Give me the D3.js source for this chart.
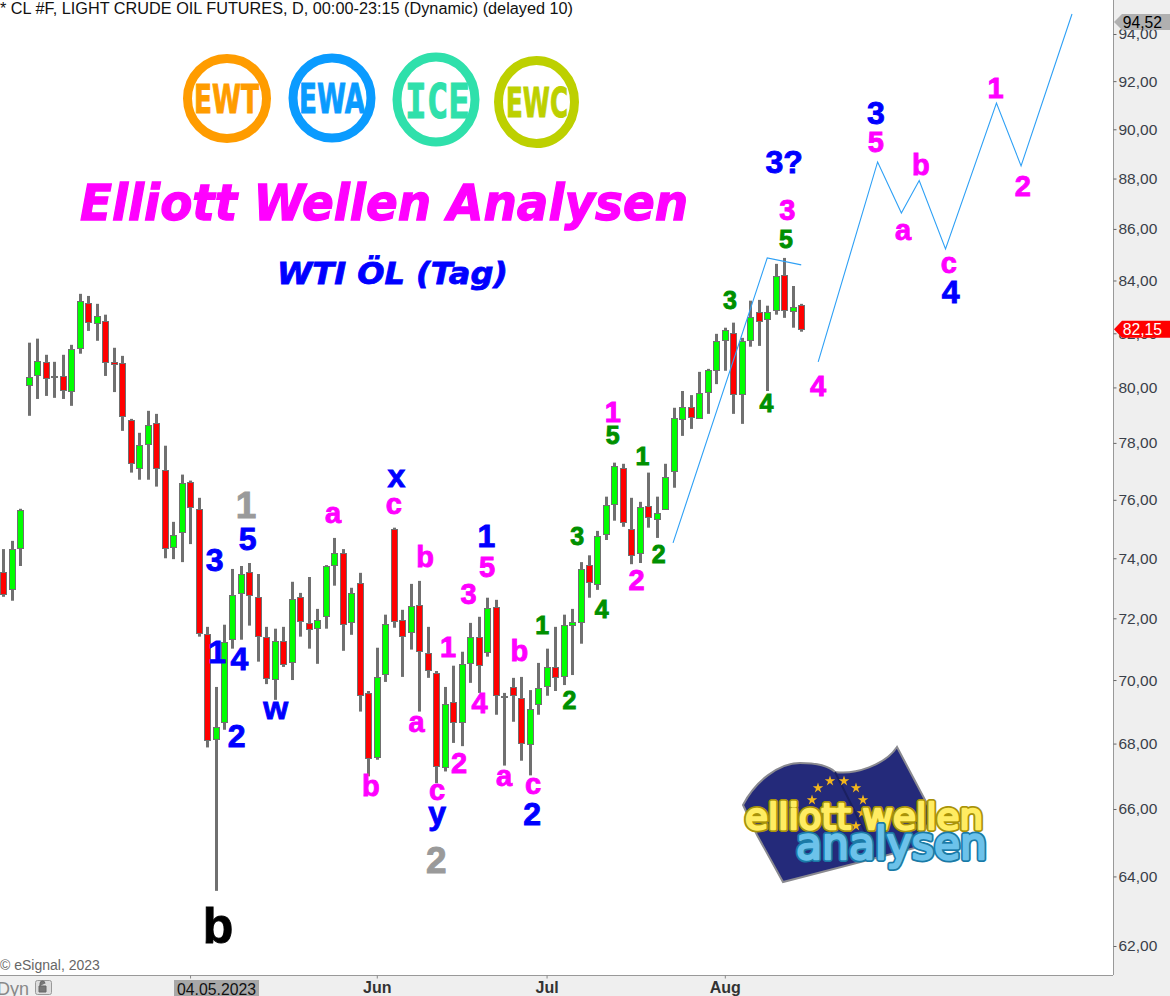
<!DOCTYPE html>
<html><head><meta charset="utf-8">
<script src="https://cdn.jsdelivr.net/npm/d3@7/dist/d3.min.js"></script>
<style>html,body{margin:0;padding:0;background:#fff;overflow:hidden}svg{display:block}</style>
</head><body><div id="chart"></div>
<script>
const opens=[73.54,72.98,74.35,80.09,80.46,80.94,80.40,80.42,79.87,81.46,
83.15,82.40,82.47,80.94,80.91,78.83,77.12,77.96,78.72,77.05,
74.38,74.90,76.63,75.69,71.50,68.14,68.68,71.33,72.84,73.54,
72.71,71.40,70.03,71.27,70.59,72.71,71.85,71.69,72.08,73.77,
74.17,71.89,73.18,69.59,67.59,70.20,75.00,71.95,71.56,72.45,
70.88,70.23,67.29,69.31,68.68,70.55,71.40,70.91,72.38,69.48,
69.78,69.43,67.98,69.24,69.81,70.42,70.13,71.79,71.89,73.77,
73.14,74.83,75.86,77.12,75.00,74.17,75.79,75.34,75.69,77.02,
78.86,79.29,78.90,79.83,80.64,81.76,82.02,79.76,81.76,82.81,
82.55,82.89,84.21,82.85,83.07];
const highs=[74.31,74.59,75.69,81.65,81.80,81.20,80.94,81.20,81.57,83.49,
83.41,83.11,82.70,81.46,81.16,78.86,78.36,79.15,79.04,77.90,
75.24,76.88,76.67,76.07,71.72,69.78,71.79,73.64,73.74,73.84,
73.47,71.72,71.66,71.72,73.21,72.84,73.37,72.31,73.77,74.69,
74.31,73.01,73.51,69.65,71.04,72.12,75.04,72.28,73.14,73.24,
71.72,70.29,69.78,70.46,70.91,71.85,72.05,72.68,72.61,69.59,
70.07,70.10,69.68,70.55,71.01,71.72,72.12,72.31,73.87,74.10,
74.93,76.11,77.30,77.26,76.07,75.93,76.95,76.11,77.26,79.26,
79.87,79.72,80.57,80.68,81.98,82.21,82.40,81.83,83.23,83.26,
83.04,84.64,84.87,83.79,83.11];
const lows=[72.71,72.58,73.74,78.97,79.58,79.69,79.62,79.58,79.33,81.24,
82.09,81.72,80.42,79.83,78.43,76.95,76.70,76.70,76.46,74.00,
73.97,73.87,74.48,71.40,67.88,63.58,68.43,71.01,71.30,71.76,
70.59,69.87,69.37,70.42,70.00,71.40,71.01,70.52,71.66,73.08,
70.94,71.46,69.00,66.99,67.50,69.94,71.69,70.10,70.98,69.00,
70.07,66.78,67.14,68.02,67.92,69.91,69.59,70.75,68.90,67.32,
68.68,67.47,67.02,68.90,69.50,69.65,69.84,70.16,71.17,72.68,
72.94,74.62,75.28,75.07,73.80,73.84,75.04,74.69,75.66,76.42,
78.25,78.50,78.86,79.04,80.12,80.61,79.04,78.68,81.50,81.53,
79.87,82.70,82.58,82.21,82.06];
const closes=[72.81,74.31,75.66,80.38,80.98,80.35,80.37,79.90,81.42,83.23,
82.43,82.66,80.94,80.87,78.97,77.30,77.93,78.65,77.12,74.35,
74.79,76.60,75.76,71.53,68.11,68.52,71.24,72.78,73.47,72.78,
71.43,70.07,71.27,70.52,72.65,71.92,71.66,71.95,73.74,74.17,
71.82,72.84,69.53,67.56,70.10,71.82,71.92,71.43,72.41,70.94,
70.33,67.32,69.24,68.68,70.52,71.40,70.49,72.35,69.53,69.44,
69.53,68.02,69.09,69.75,70.42,70.10,71.79,71.89,73.64,73.21,
74.76,75.83,77.19,75.24,74.10,75.76,75.41,75.55,76.81,78.90,
79.29,78.93,79.79,80.64,81.72,82.13,79.76,81.72,82.62,82.47,
82.81,84.17,82.89,83.00,82.17];

const priceTicks=[94,92,90,88,86,84,82,80,78,76,74,72,70,68,66,64,62];
const monthTickIndex=[22,44,64,85];
const monthTickLabels=["","Jun","Jul","Aug"];
const cursorIndex=25, cursorLabel="04.05.2023";
const lastPrice=82.15, projectedEnd=94.52;

// Elliott wave forecast paths: [bar index, price]
const forecastA=[[78.9,74.52],[90,84.87],[94,84.6]];
const forecastB=[[96,80.94],[103,88.67],[105.8,86.63],[107.9,87.92],[111,85.22],[117,91.08],[119.9,88.51],[125.9,94.86]];

// wave labels: [text, bar index, price at baseline, colour group, size group]
const waveLabels=[
["1",28.6,75.38,"gray","xl"],["5",28.8,74.28,"blue","l"],["3",24.9,73.57,"blue","l"],
["a",38.85,75.21,"mag","m"],["x",46.3,76.46,"blue","l"],["c",46,75.52,"mag","m"],
["1",25.2,70.55,"blue","l"],["4",27.8,70.33,"blue","l"],["2",27.5,67.9,"blue","l"],
["w",32.1,68.77,"blue","l"],["b",49.7,73.71,"mag","m"],["1",56.9,74.38,"blue","l"],
["5",57,73.37,"mag","m"],["3",54.8,72.48,"mag","m"],["1",52.4,70.75,"mag","m"],
["b",60.8,70.62,"mag","m"],["a",48.7,68.37,"mag","m"],["4",56.1,68.96,"mag","m"],
["2",53.7,67.08,"mag","m"],["b",43.3,66.38,"mag","m"],["c",51.1,66.26,"mag","m"],
["y",51.1,65.54,"blue","l"],["2",51,64.10,"gray","xl"],["a",59,66.69,"mag","m"],
["c",62.4,66.44,"mag","m"],["2",62.3,65.52,"blue","l"],["1",63.5,71.5,"green","s"],
["2",66.7,69.09,"green","s"],["3",67.6,74.45,"green","s"],["4",70.5,72.02,"green","s"],
["2",77.2,73.84,"green","s"],["2",74.6,72.94,"mag","m"],["1",71.8,78.75,"mag","m"],
["5",71.8,77.96,"green","s"],["1",75.3,77.23,"green","s"],["3",85.6,82.92,"green","s"],
["4",89.9,79.11,"green","s"],["5",92.2,85.26,"green","s"],["3",92.35,86.35,"mag","m"],
["3?",92,88.23,"blue","l"],["4",96,79.69,"mag","m"],["3",102.8,90.22,"blue","l"],
["5",102.8,89.08,"mag","m"],["b",108.1,88.15,"mag","m"],["a",106,85.57,"mag","m"],
["c",111.4,84.29,"mag","m"],["4",111.6,83.15,"blue","l"],["1",116.9,91.28,"mag","m"],
["2",120.1,87.31,"mag","m"],["b",25.3,62.09,"black","xxl"]];
const colorGroups={gray:"#9a9a9a",blue:"#0000ff",mag:"#ff00ff",green:"#009000",black:"#000"};
const sizeGroups={s:25,m:29,l:32,xl:37,xxl:50};

const badges=[
{t:"EWT",c:"#ff9c00"},{t:"EWA",c:"#0a9bff"},{t:"ICE",c:"#2fe0ab"},{t:"EWC",c:"#bdd000"}];
// badge drawing: cx, cy, rx, ry, text left, text width, baseline, font size
const badgeGeom=[[227,98.5,39.5,40,194,65,113,39],[332,98,39,40,299,66,113,41],[436,99.5,39,42.5,405,65,118,48],[536.5,102,38,41.5,506,62,117,41]];

const W=1170,H=996,plotR=1113,plotB=975;
const svg=d3.select("#chart").append("svg").attr("width",W).attr("height",H);
const sans="'Liberation Sans',Arial,sans-serif";
const x=d3.scaleLinear().domain([0,125.9]).range([3.3,1072]);
const y=d3.scaleLog().domain([94,62]).range([34,946]);

// panels
svg.append("rect").attr("x",plotR).attr("y",0).attr("width",W-plotR).attr("height",H).attr("fill","#efefef");
svg.append("rect").attr("x",0).attr("y",plotB).attr("width",W).attr("height",H-plotB).attr("fill","#efefef");

// header + branding
svg.append("text").attr("x",0).attr("y",14).attr("font-family",sans).attr("font-size",16).attr("fill","#111")
 .attr("textLength",573).attr("lengthAdjust","spacingAndGlyphs")
 .text("* CL #F, LIGHT CRUDE OIL FUTURES, D, 00:00-23:15 (Dynamic) (delayed 10)");
svg.append("text").attr("x",0).attr("y",970).attr("font-family",sans).attr("font-size",14).attr("fill","#666").text("© eSignal, 2023");

const bg=svg.append("g");
badges.forEach((b,i)=>{const [cx,cy,rx,ry,tx,tw,ty,fs]=badgeGeom[i];
 bg.append("ellipse").attr("cx",cx).attr("cy",cy).attr("rx",rx).attr("ry",ry).attr("fill","#fff").attr("stroke",b.c).attr("stroke-width",9);
 bg.append("text").attr("x",tx).attr("y",ty)
  .attr("font-family",b.t==="ICE"?"'DejaVu Sans Mono'":"'DejaVu Sans'").attr("font-weight","bold").attr("font-size",fs)
  .attr("textLength",tw).attr("lengthAdjust","spacingAndGlyphs").attr("fill",b.c).attr("stroke",b.c).attr("stroke-width",1).text(b.t);
});
svg.append("text").attr("x",80).attr("y",220).attr("font-family","'DejaVu Sans'").attr("font-weight","bold").attr("font-style","italic")
 .attr("font-size",50).attr("textLength",608).attr("lengthAdjust","spacingAndGlyphs").attr("fill","#ff00ff").attr("stroke","#ff00ff").attr("stroke-width",1.3).text("Elliott Wellen Analysen");
svg.append("text").attr("x",277).attr("y",284).attr("font-family","'DejaVu Sans'").attr("font-weight","bold").attr("font-style","italic")
 .attr("font-size",30).attr("textLength",231).attr("lengthAdjust","spacingAndGlyphs").attr("fill","#0000ff").attr("stroke","#0000ff").attr("stroke-width",.8).text("WTI ÖL (Tag)");

// logo
const logo=svg.append("g");
logo.append("path").attr("d","M743,805C755,782 778,763 800,763C815,763 828,765 835,772C855,775 885,765 897,747L933,815L915,848L783,882L757,835Z")
 .attr("fill","#242a7a").attr("stroke","#8a8a90").attr("stroke-width",2);
logo.append("path").attr("d","M835,772L868,838").attr("stroke","#1b2060").attr("stroke-width",2).attr("fill","none");
[[830,781],[844,781],[818,788],[856,788],[863,800],[812,800],[856,826],[862,813]].forEach(p=>{
 logo.append("path").attr("d",d3.symbol(d3.symbolStar,34)()).attr("transform",`translate(${p[0]},${p[1]})`).attr("fill","#f2b51c");});
function logoText(t,lx,ly,fs,tw,fill,edge){
 [[edge,6],[fill,2.4]].forEach(s=>logo.append("text").attr("x",lx).attr("y",ly).attr("font-family","'DejaVu Sans'").attr("font-size",fs)
  .attr("textLength",tw).attr("lengthAdjust","spacingAndGlyphs").attr("fill",s[0]).attr("stroke",s[0]).attr("stroke-width",s[1]).attr("stroke-linejoin","round").text(t));}
logoText("elliott wellen",745,829,36,238,"#ffec62","#a8920a");
logoText("analysen",796,859,44,191,"#6cc2ea","#1a7aa6");

// candles
const bars=d3.range(opens.length).map(i=>({i,o:opens[i],h:highs[i],l:lows[i],c:closes[i]}));
const px=d=>Math.round(x(d.i));
const g=svg.append("g");
g.selectAll("line.w").data(bars).join("line").attr("class","w")
 .attr("x1",d=>px(d)+.5).attr("x2",d=>px(d)+.5).attr("y1",d=>y(d.h)).attr("y2",d=>y(d.l))
 .attr("stroke","#707070").attr("stroke-width",3);
g.selectAll("rect").data(bars).join("rect")
 .attr("x",d=>px(d)-2.5).attr("width",6)
 .attr("y",d=>Math.round(y(Math.max(d.o,d.c)))+.5)
 .attr("height",d=>Math.max(1,Math.round(Math.abs(y(d.o)-y(d.c)))))
 .attr("fill",d=>d.c>=d.o?"#00ff00":"#ff0000").attr("stroke","#707070").attr("stroke-width",1);

// forecast
const line=d3.line().x(d=>x(d[0])).y(d=>y(d[1]));
[forecastA,forecastB].forEach(f=>svg.append("path").attr("d",line(f)).attr("fill","none").attr("stroke","#2ea0f5").attr("stroke-width",1.1));

// labels
svg.append("g").selectAll("text").data(waveLabels).join("text")
 .attr("x",d=>x(d[1])).attr("y",d=>y(d[2])).attr("text-anchor","middle")
 .attr("font-family",sans).attr("font-weight","bold").attr("font-size",d=>sizeGroups[d[4]])
 .attr("fill",d=>colorGroups[d[3]]).attr("stroke",d=>colorGroups[d[3]]).attr("stroke-width",.9).text(d=>d[0]);

// axes
const yAxis=d3.axisRight(y).tickValues(priceTicks).tickSize(3).tickPadding(2).tickFormat(d=>d3.format(".2f")(d).replace(".",","));
const ya=svg.append("g").attr("transform",`translate(${plotR+.5},0)`).call(yAxis);
ya.select(".domain").attr("d",`M0,0V${plotB}`).attr("stroke","#999");
ya.selectAll(".tick line").attr("stroke","#666");
ya.selectAll("text").attr("font-family",sans).attr("font-size",15.5).attr("fill","#3a3f4a");
const xAxis=d3.axisBottom(x).tickValues(monthTickIndex).tickSize(3).tickPadding(3).tickFormat((d,i)=>monthTickLabels[i]);
const xa=svg.append("g").attr("transform",`translate(0,${plotB+.5})`).call(xAxis);
xa.select(".domain").attr("d",`M0,0H${plotR}`).attr("stroke","#999");
xa.selectAll(".tick line").attr("stroke","#888");
xa.selectAll("text").attr("font-family",sans).attr("font-size",16).attr("font-weight","bold").attr("fill","#333");

// cursor date
const cx=x(cursorIndex);
svg.append("rect").attr("x",cx-41.5).attr("y",980).attr("width",85).attr("height",16).attr("fill","#a8a8a8");
svg.append("text").attr("x",cx+1).attr("y",995).attr("text-anchor","middle").attr("font-family",sans).attr("font-size",15.8).attr("fill","#111").text(cursorLabel);

// price tags
function tag(price,fill,color,h){const yy=y(price);
 svg.append("path").attr("d",`M${plotR+1},${yy}l8,${-h/2}H${W}v${h}H${plotR+9}Z`).attr("fill",fill);
 svg.append("text").attr("x",W-8).attr("y",yy+6).attr("text-anchor","end").attr("font-family",sans).attr("font-size",15.7).attr("fill",color)
  .text(d3.format(".2f")(price).replace(".",","));}
tag(projectedEnd,"#b0b0b0","#000",16);
tag(lastPrice,"#ff0000","#fff",17);

// Dyn + lock
svg.append("text").attr("x",-3).attr("y",995).attr("font-family",sans).attr("font-size",18).attr("fill","#888").text("Dyn");
const lk=svg.append("g");
lk.append("rect").attr("x",35.5).attr("y",980.5).attr("width",16).attr("height",14).attr("rx",2).attr("fill","#ddd").attr("stroke","#999");
lk.append("path").attr("d","M40,986v-2.5a2.5,2.5 0 0 1 5,0M39,986h7v6h-7z").attr("fill","#777").attr("stroke","#666");
</script></body></html>
